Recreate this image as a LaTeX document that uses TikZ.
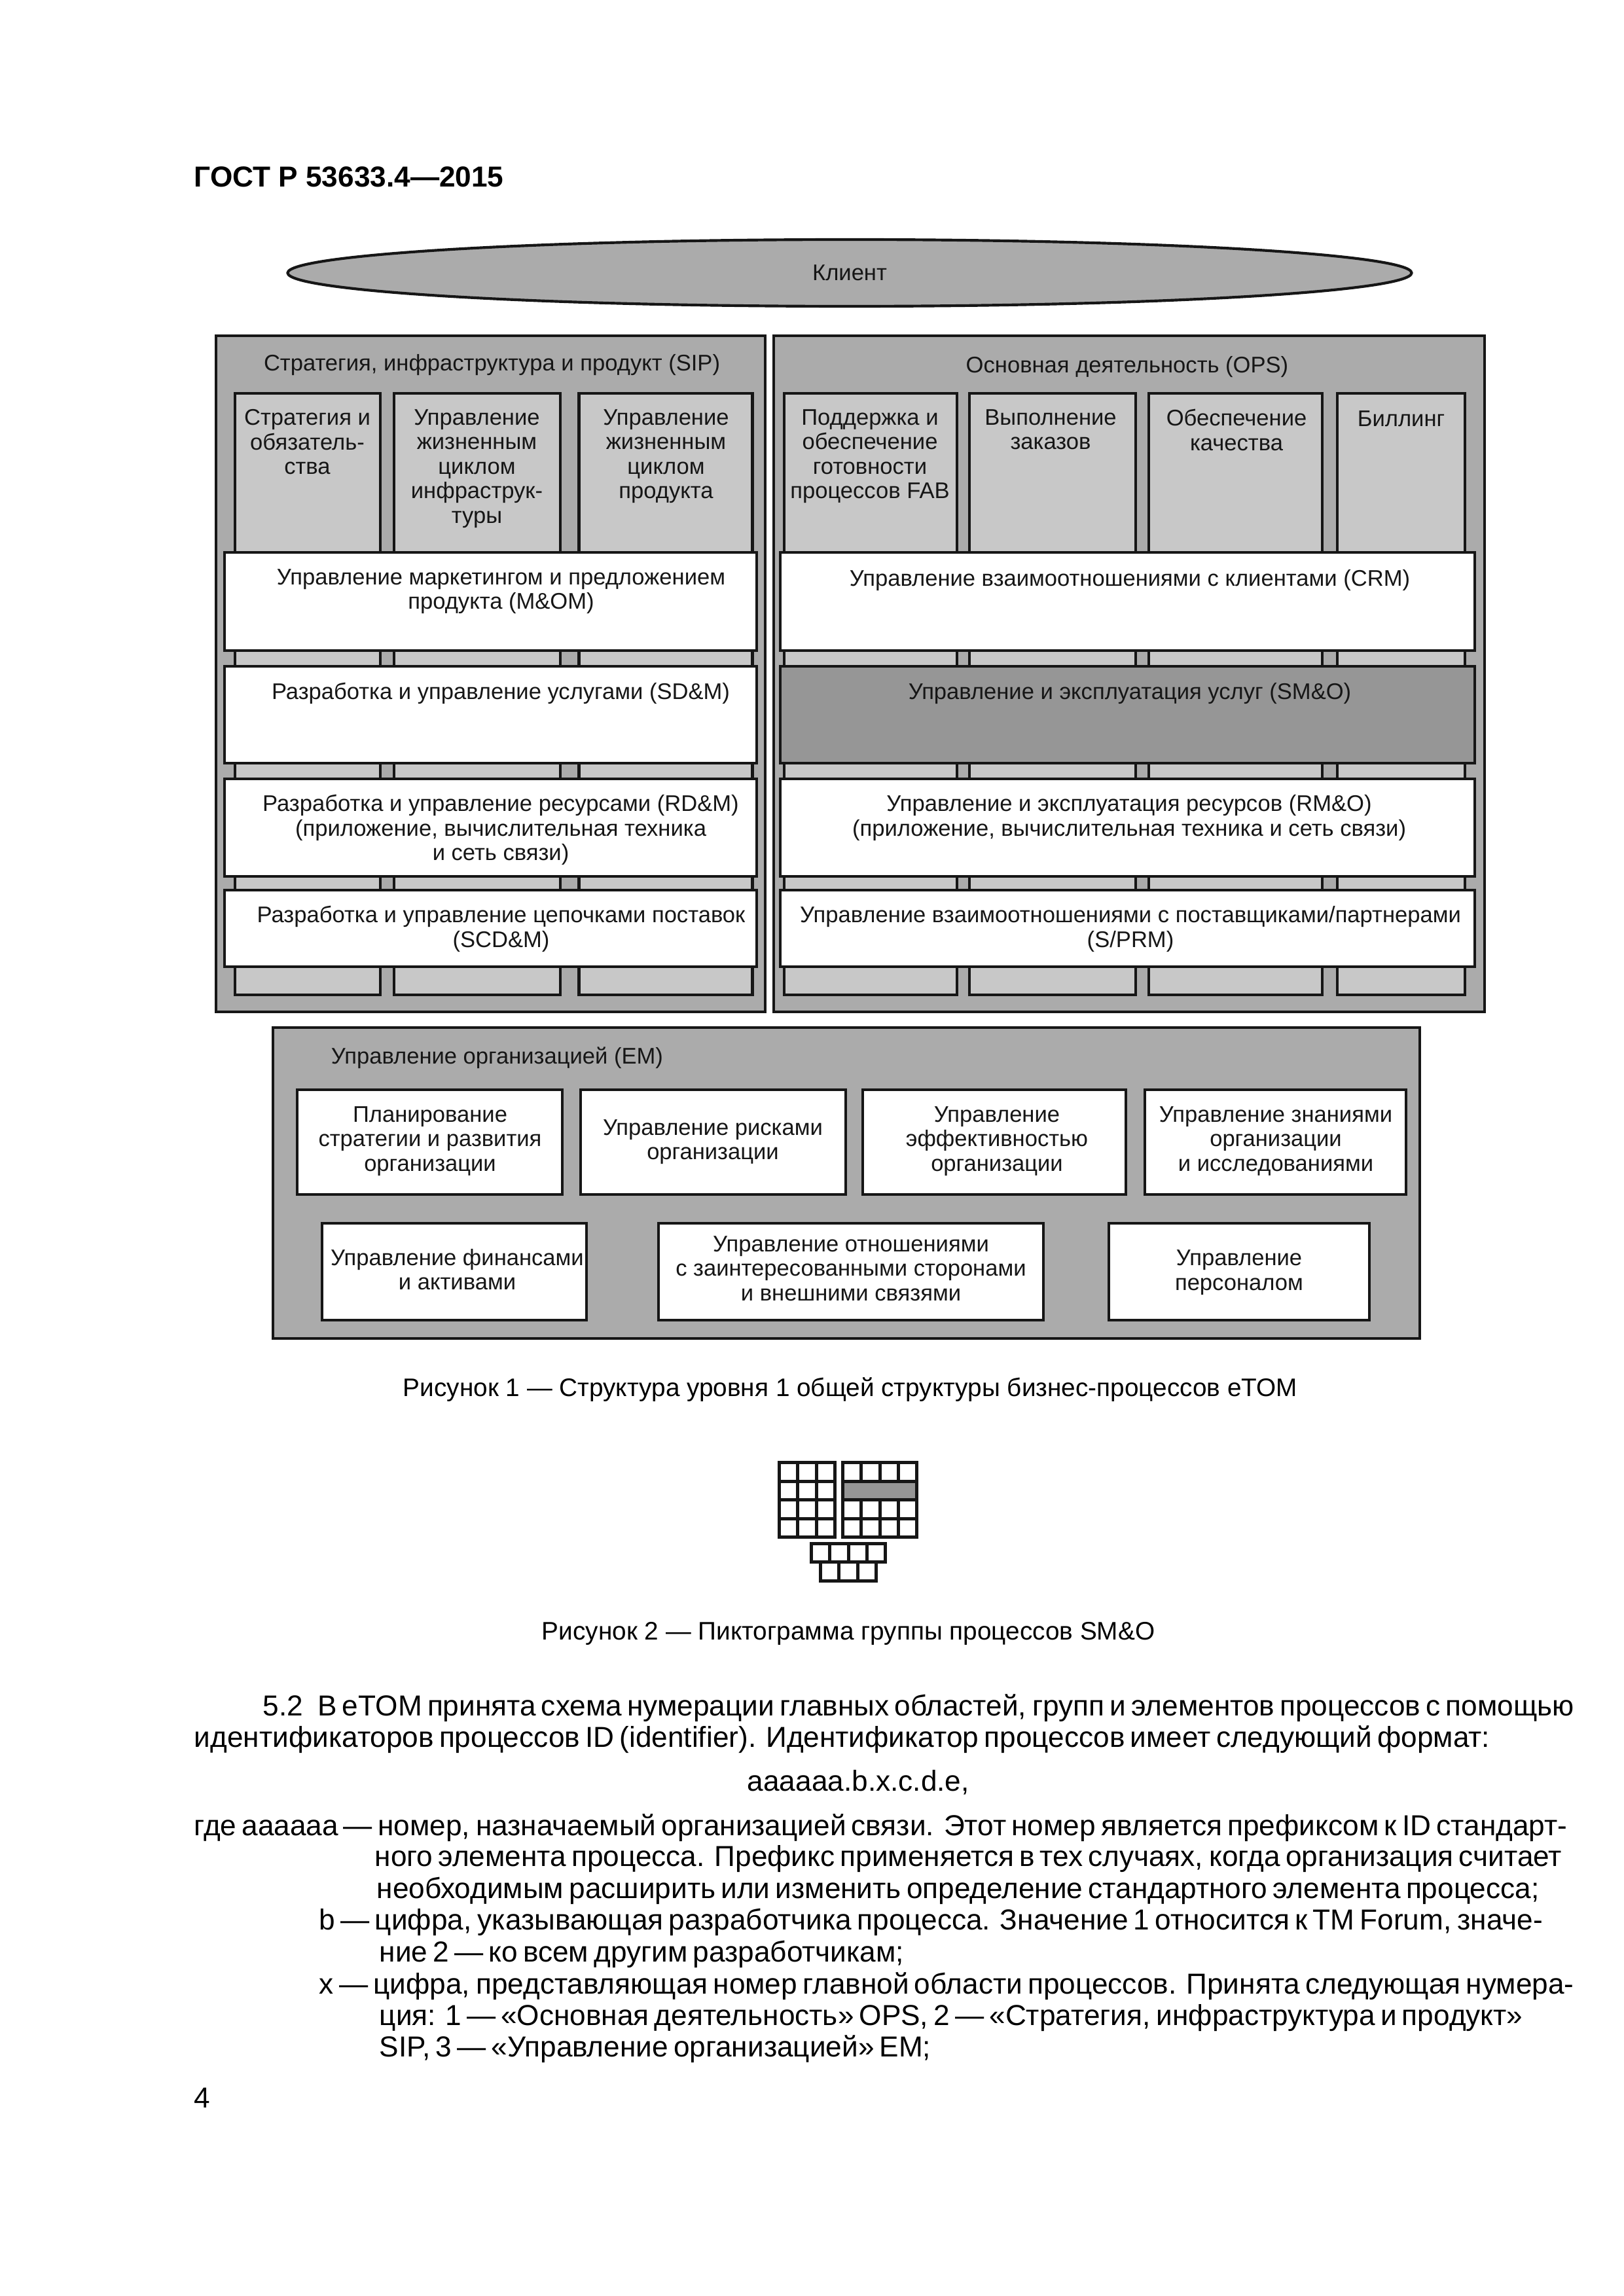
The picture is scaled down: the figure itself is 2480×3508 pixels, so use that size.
\documentclass[tikz,border=0pt]{standalone}
\usepackage{xcolor}
\usepackage{fontspec}
\setmainfont{Liberation Sans}
\usepackage{tikz}
\usetikzlibrary{shapes.geometric,positioning}
\definecolor{ink}{HTML}{161616}
\definecolor{outer}{HTML}{ABABAB}
\definecolor{column}{HTML}{C8C8C8}
\definecolor{active}{HTML}{969696}

% one justified line of the body text, baseline at the coordinate
\newcommand{\bodyline}[4]{\node[bodytext] (#1) at (#2) {\hbox to \dimexpr#3pt*24/100\relax{#4}};}

\begin{document}
\begin{tikzpicture}[
    x=0.24pt,y=-0.24pt,
    size/.style n args={2}{minimum width=#1*0.24pt,minimum height=#2*0.24pt},
    frame/.style={draw=ink,line width=1pt,inner sep=0pt,outer sep=0pt,rectangle},
    areabox/.style={frame,fill=outer},
    columnbox/.style={frame,fill=column},
    barbox/.style={frame,fill=white},
    lbl/.style={anchor=north,yshift=6.3pt,inner sep=0pt,align=center,text=ink,
      font=\fontsize{8.3}{9}\selectfont,execute at begin node=\strut},
    bodytext/.style={anchor=base west,inner sep=0pt,text=black,font=\fontsize{10.6}{12}\selectfont},
    captext/.style={anchor=base,inner sep=0pt,text=black,font=\fontsize{9.3}{12}\selectfont},
    pict/.style={draw=ink,line width=1.2pt,fill=white}
  ]
    \useasboundingbox (0,0) rectangle (2480,3508);

    \node[anchor=base west,inner sep=0pt,font=\fontsize{10.6}{12}\selectfont\bfseries] (head) at (296,286) {ГОСТ Р 53633.4—2015};

    % customer
    \node[ellipse,draw=ink,line width=1pt,fill=outer,inner sep=0pt,size={1717}{102},text=ink,font=\fontsize{8.3}{9}\selectfont] (client) at (1298,417) {Клиент};

    % strategy side
    \node[areabox,size={839}{1033}] (sip) at (749.5,1029.5) {};
    \node[lbl] (sipname) at (751.5,566) {Стратегия, инфраструктура и продукт (SIP)};
    \node[columnbox,size={222}{919}] (sipa) at (470,1060.5) {};
    \node[columnbox,size={254}{919}] (sipb) at (729,1060.5) {};
    \node[columnbox,size={265}{919}] (sipc) at (1017,1060.5) {};
    \node[lbl] (sipatext) at (469.5,651) {Стратегия и\\обязатель-\\ства};
    \node[lbl] (sipbtext) at (728.5,651) {Управление\\жизненным\\циклом\\инфраструк-\\туры};
    \node[lbl] (sipctext) at (1017.5,651) {Управление\\жизненным\\циклом\\продукта};

    % operations side
    \node[areabox,size={1086}{1033}] (ops) at (1725,1029.5) {};
    \node[lbl] (opsname) at (1722,569) {Основная деятельность (OPS)};
    \node[columnbox,size={264}{919}] (opsa) at (1330,1060.5) {};
    \node[columnbox,size={254}{919}] (opsb) at (1608,1060.5) {};
    \node[columnbox,size={265}{919}] (opsc) at (1887.5,1060.5) {};
    \node[columnbox,size={195}{919}] (opsd) at (2140.5,1060.5) {};
    \node[lbl] (opsatext) at (1329,651) {Поддержка и\\обеспечение\\готовности\\процессов FAB};
    \node[lbl] (opsbtext) at (1605,651) {Выполнение\\заказов};
    \node[lbl] (opsctext) at (1889,651) {Обеспечение\\качества};
    \node[lbl] (opsdtext) at (2140.5,651) {Биллинг};

    % horizontal bars
    \node[barbox,size={813}{150}] (mom) at (749.5,919) {};
    \node[barbox,size={813}{148}] (sdm) at (749.5,1092) {};
    \node[barbox,size={813}{149}] (rdm) at (749.5,1264.5) {};
    \node[barbox,size={813}{117}] (scdm) at (749.5,1418.5) {};
    \node[lbl] (momtext) at (765.5,895) {Управление маркетингом и предложением\\продукта (M\&OM)};
    \node[lbl] (sdmtext) at (765,1067.5) {Разработка и управление услугами (SD\&M)};
    \node[lbl] (rdmtext) at (765,1240) {Разработка и управление ресурсами (RD\&M)\\(приложение, вычислительная техника\\и сеть связи)};
    \node[lbl] (scdmtext) at (765.5,1410) {Разработка и управление цепочками поставок\\(SCD\&M)};

    \node[barbox,size={1061}{150}] (crm) at (1722.5,919) {};
    \node[frame,fill=active,size={1061}{148}] (smo) at (1722.5,1092) {};
    \node[barbox,size={1061}{149}] (rmo) at (1722.5,1264.5) {};
    \node[barbox,size={1061}{117}] (sprm) at (1722.5,1418.5) {};
    \node[lbl] (crmtext) at (1726,895) {Управление взаимоотношениями с клиентами (CRM)};
    \node[lbl] (smotext) at (1726,1067.5) {Управление и эксплуатация услуг (SM\&O)};
    \node[lbl] (rmotext) at (1725,1240) {Управление и эксплуатация ресурсов (RM\&O)\\(приложение, вычислительная техника и сеть связи)};
    \node[lbl] (sprmtext) at (1727,1410) {Управление взаимоотношениями с поставщиками/партнерами\\(S/PRM)};

    % enterprise management
    \node[areabox,size={1752}{475}] (em) at (1293,1807.5) {};
    \node[lbl] (emname) at (759.5,1625) {Управление организацией (EM)};
    \node[barbox,size={405}{160}] (plan) at (656.5,1745) {};
    \node[barbox,size={405}{160}] (risk) at (1089.5,1745) {};
    \node[barbox,size={402}{160}] (perf) at (1519,1745) {};
    \node[barbox,size={399}{160}] (know) at (1948.5,1745) {};
    \node[barbox,size={404}{148}] (fin) at (694,1943) {};
    \node[barbox,size={588}{148}] (rel) at (1300,1943) {};
    \node[barbox,size={398}{148}] (pers) at (1893,1943) {};
    \node[lbl] (plantext) at (657,1716) {Планирование\\стратегии и развития\\организации};
    \node[lbl] (risktext) at (1089,1736) {Управление рисками\\организации};
    \node[lbl] (perftext) at (1523,1716) {Управление\\эффективностью\\организации};
    \node[lbl] (knowtext) at (1949,1716) {Управление знаниями\\организации\\и исследованиями};
    \node[lbl] (fintext) at (698.5,1933.5) {Управление финансами\\и активами};
    \node[lbl] (reltext) at (1300,1914) {Управление отношениями\\с заинтересованными сторонами\\и внешними связями};
    \node[lbl] (perstext) at (1893,1935.5) {Управление\\персоналом};

    \node[captext] (capone) at (1299,2133) {Рисунок 1 — Структура уровня 1 общей структуры бизнес-процессов eTOM};

    % pictogram
    \foreach \c in {0,1,2}
      \foreach \r in {0,1,2,3}
        \draw[pict] ({1190.5+28.33*\c},{2234.5+28.5*\r}) rectangle +(28.33,28.5);
    \foreach \c in {0,1,2,3}
      \foreach \r in {0,2,3}
        \draw[pict] ({1287.5+28.25*\c},{2234.5+28.5*\r}) rectangle +(28.25,28.5);
    \draw[pict,fill=active] (1287.5,2263) rectangle +(113,28.5);
    \foreach \c in {0,1,2,3}
      \draw[pict] ({1239.5+28.25*\c},2358.5) rectangle +(28.25,28);
    \foreach \c in {0,1,2}
      \draw[pict] ({1253.5+28.33*\c},2386.5) rectangle +(28.33,28.5);

    \node[captext] (captwo) at (1296,2505) {Рисунок 2 — Пиктограмма группы процессов SM\&O};

    % body text
    \bodyline{bodya}{401,2621}{1901}{5.2\hspace{0.5em}В eTOM принята схема нумерации главных областей, групп и элементов процессов с помощью}
    \bodyline{bodyb}{296,2669}{1879}{идентификаторов процессов ID (identifier). Идентификатор процессов имеет следующий формат:}
    \bodyline{bodyc}{1141,2736}{318}{аааааа.b.x.c.d.e,}
    \bodyline{bodyd}{296,2804}{2004}{где аааааа — номер, назначаемый организацией связи. Этот номер является префиксом к ID стандарт-}
    \bodyline{bodye}{572,2851}{1705}{ного элемента процесса. Префикс применяется в тех случаях, когда организация считает}
    \bodyline{bodyf}{575,2900}{1695}{необходимым расширить или изменить определение стандартного элемента процесса;}
    \bodyline{bodyg}{487,2948}{1784}{b — цифра, указывающая разработчика процесса. Значение 1 относится к TM Forum, значе-}
    \bodyline{bodyh}{579,2997}{768}{ние 2 — ко всем другим разработчикам;}
    \bodyline{bodyi}{487,3046}{1813}{x — цифра, представляющая номер главной области процессов. Принята следующая нумера-}
    \bodyline{bodyj}{579,3094}{1711}{ция: 1 — «Основная деятельность» OPS, 2 — «Стратегия, инфраструктура и продукт»}
    \bodyline{bodyk}{579,3142}{814}{SIP, 3 — «Управление организацией» EM;}
    \node[bodytext] (pageno) at (296,3220) {4};
  \end{tikzpicture}
\end{document}
